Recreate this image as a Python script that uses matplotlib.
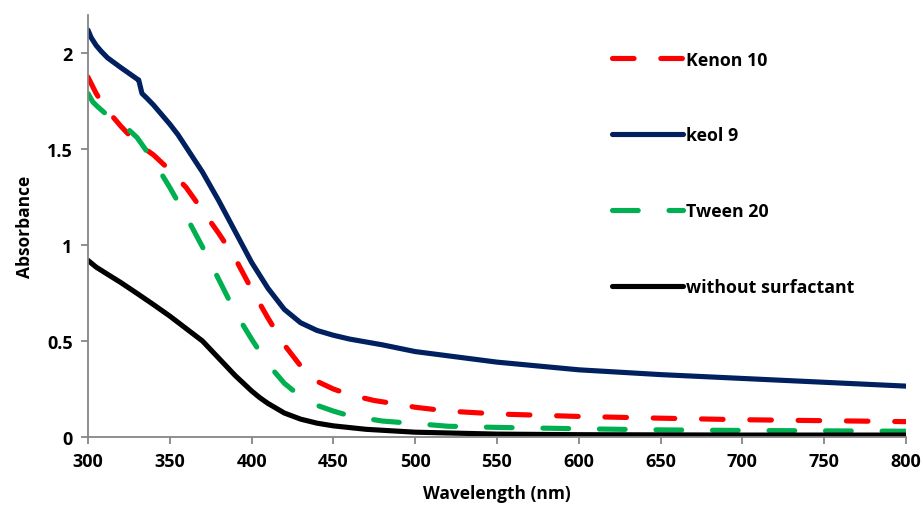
import matplotlib.pyplot as plt

# absorbance spectra, read per series
wl_kenon = [300, 305, 310, 315, 320, 330, 340, 350, 360, 370, 380, 390, 400, 410, 420,
            430, 440, 450, 460, 475, 490, 500, 520, 550, 600, 650, 700, 750, 800]
abs_kenon = [1.875, 1.79, 1.72, 1.67, 1.62, 1.53, 1.47, 1.39, 1.30, 1.18, 1.06, 0.93, 0.77,
             0.62, 0.48, 0.37, 0.29, 0.25, 0.22, 0.19, 0.17, 0.155, 0.135, 0.12, 0.107,
             0.098, 0.09, 0.085, 0.08]

wl_keol = [300, 302, 305, 308, 312, 316, 320, 325, 330, 331, 333, 336, 340, 345, 350, 355,
           360, 370, 380, 390, 400, 410, 420, 430, 440, 450, 460, 480, 500, 550, 600, 650,
           700, 750, 800]
abs_keol = [2.12, 2.08, 2.04, 2.01, 1.975, 1.95, 1.925, 1.895, 1.865, 1.86, 1.79, 1.765,
            1.73, 1.68, 1.63, 1.575, 1.51, 1.38, 1.23, 1.07, 0.91, 0.775, 0.665, 0.595,
            0.555, 0.53, 0.51, 0.48, 0.445, 0.39, 0.35, 0.325, 0.305, 0.285, 0.265]

wl_tween = [300, 303, 306, 310, 315, 320, 325, 330, 335, 340, 345, 350, 360, 370, 380, 390,
            400, 410, 420, 430, 440, 450, 460, 480, 500, 520, 550, 600, 650, 700, 750, 800]
abs_tween = [1.79, 1.745, 1.72, 1.69, 1.66, 1.63, 1.6, 1.56, 1.50, 1.43, 1.37, 1.30, 1.15,
             0.99, 0.82, 0.65, 0.51, 0.38, 0.28, 0.21, 0.165, 0.135, 0.11, 0.083, 0.07,
             0.056, 0.05, 0.043, 0.037, 0.034, 0.032, 0.03]

wl_none = [300, 305, 310, 320, 330, 340, 350, 360, 370, 375, 380, 385, 390, 395, 400, 405,
           410, 420, 430, 440, 450, 470, 500, 550, 600, 700, 800]
abs_none = [0.92, 0.885, 0.858, 0.805, 0.748, 0.69, 0.63, 0.565, 0.50, 0.455, 0.41, 0.365,
            0.32, 0.28, 0.24, 0.205, 0.175, 0.125, 0.093, 0.072, 0.058, 0.04, 0.025, 0.015,
            0.012, 0.01, 0.01]

x_ticks = [300, 350, 400, 450, 500, 550, 600, 650, 700, 750, 800]
y_ticks = [0, 0.5, 1, 1.5, 2]
y_tick_labels = ['0', '0.5', '1', '1.5', '2']

plt.rcParams['font.family'] = ['Open Sans', 'DejaVu Sans']
plt.rcParams['font.weight'] = 'bold'

fig = plt.figure(figsize=(9.24, 5.06), dpi=100)
ax = fig.add_axes([0.0952, 0.1344, 0.8853, 0.8346])

lw = 3.7
ax.plot(wl_kenon, abs_kenon, color='#ff0000', lw=lw, dashes=(4.2, 5.2),
        dash_capstyle='round', solid_capstyle='round', label='Kenon 10')
ax.plot(wl_keol, abs_keol, color='#002060', lw=lw, solid_capstyle='round',
        solid_joinstyle='round', label='keol 9')
ax.plot(wl_tween, abs_tween, color='#00b050', lw=lw, dashes=(5.0, 6.0),
        dash_capstyle='round', label='Tween 20')
ax.plot(wl_none, abs_none, color='#000000', lw=lw, solid_capstyle='round',
        solid_joinstyle='round', label='without surfactant')

ax.set_xlim(300, 800)
ax.set_ylim(0, 2.2)
ax.set_xticks(x_ticks)
ax.set_yticks(y_ticks)
ax.set_yticklabels(y_tick_labels)

for side in ['top', 'right']:
    ax.spines[side].set_visible(False)
for side in ['left', 'bottom']:
    ax.spines[side].set_color('#868686')
    ax.spines[side].set_linewidth(1.3)
ax.tick_params(axis='both', direction='out', length=5, width=1.3, color='#868686',
               labelsize=13, pad=6)
for lab in ax.get_xticklabels() + ax.get_yticklabels():
    lab.set_fontweight('bold')

ax.set_xlabel('Wavelength (nm)', fontsize=12.5, fontweight='bold', labelpad=10)
ax.set_ylabel('Absorbance', fontsize=12.5, fontweight='bold', labelpad=9)

leg = ax.legend(loc='upper left', bbox_to_anchor=(0.632, 0.932), frameon=False,
                fontsize=12.8, handlelength=4.0, handletextpad=0.15,
                labelspacing=3.25, borderaxespad=0)
for t in leg.get_texts():
    t.set_fontweight('bold')

fig.savefig('out.png', dpi=100)
